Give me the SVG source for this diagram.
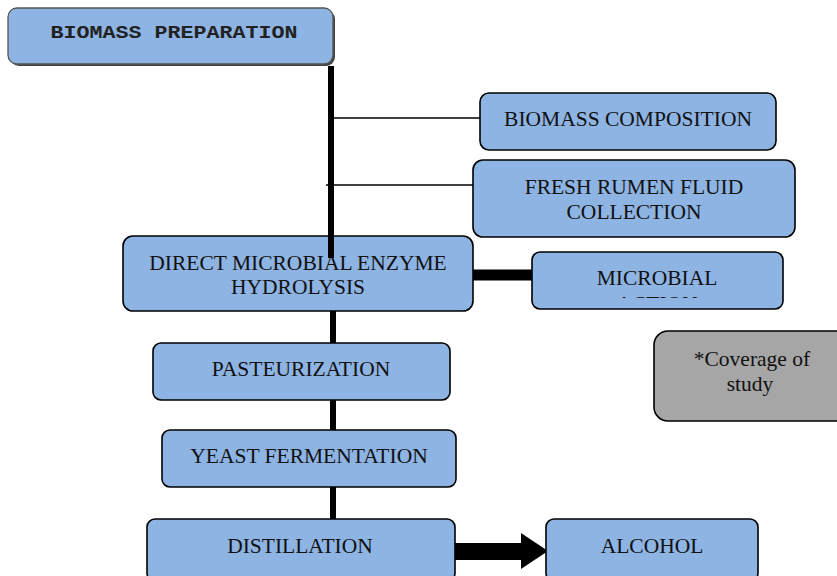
<svg xmlns="http://www.w3.org/2000/svg" width="837" height="576" viewBox="0 0 837 576">
<style>
.box{fill:#8eb4e3;stroke:#000;stroke-width:1.6}
.gray{fill:#a6a6a6;stroke:#000;stroke-width:1.6}
.t{font-family:"Liberation Serif","Times New Roman",serif;font-size:21.5px;fill:#111;text-anchor:middle}
.m{font-family:"Liberation Mono","Courier New",monospace;font-weight:bold;font-size:18px;fill:#222;text-anchor:middle}
.thick{stroke:#000;stroke-width:6;fill:none}
.thin{stroke:#000;stroke-width:1.3;fill:none}
</style>
<defs>
<clipPath id="clipMic"><rect x="532" y="252" width="252" height="46"/></clipPath>
</defs>
<rect width="837" height="576" fill="#fff"/>
<g id="connectors">
<line class="thick" x1="331" y1="66" x2="331" y2="258"/>
<line class="thin" x1="334" y1="118" x2="481" y2="118"/>
<line class="thin" x1="326" y1="185" x2="474" y2="185"/>
<line stroke="#000" stroke-width="11" x1="473" y1="275" x2="533" y2="275"/>
<line class="thick" x1="333" y1="311" x2="333" y2="343"/>
<line class="thick" x1="333" y1="400" x2="333" y2="430"/>
<line class="thick" x1="333" y1="487" x2="333" y2="520"/>
<polygon points="455,543 521,543 521,533 548,551 521,569 521,560 455,560" fill="#000"/>
</g>
<g id="biomass-preparation">
<rect x="10" y="10" width="325" height="56" rx="9" fill="#444"/>
<rect x="8" y="8" width="325" height="56" rx="9" fill="#8eb4e3" stroke="#555" stroke-width="1.3"/>
<text class="m" x="174" y="38" textLength="247" lengthAdjust="spacingAndGlyphs">BIOMASS PREPARATION</text>
</g>
<g id="biomass-composition">
<rect class="box" x="480" y="93" width="296" height="57" rx="9"/>
<text class="t" x="628" y="126">BIOMASS COMPOSITION</text>
</g>
<g id="fresh-rumen">
<rect class="box" x="473" y="160" width="322" height="77" rx="10"/>
<text class="t" x="634" y="194">FRESH RUMEN FLUID</text>
<text class="t" x="634" y="219">COLLECTION</text>
</g>
<g id="hydrolysis">
<rect class="box" x="123" y="236" width="350" height="75" rx="10"/>
<text class="t" x="298" y="270">DIRECT MICROBIAL ENZYME</text>
<text class="t" x="298" y="294">HYDROLYSIS</text>
</g>
<line class="thick" x1="331" y1="236" x2="331" y2="258"/>
<g id="microbial-action">
<rect class="box" x="532" y="252" width="251" height="57" rx="8"/>
<text class="t" x="657" y="285">MICROBIAL</text>
<text class="t" x="657" y="311" clip-path="url(#clipMic)">ACTION</text>
</g>
<g id="coverage">
<rect class="gray" x="654" y="331" width="200" height="90" rx="14"/>
<text class="t" x="752" y="366">*Coverage of</text>
<text class="t" x="750" y="391">study</text>
</g>
<g id="pasteurization">
<rect class="box" x="153" y="343" width="297" height="57" rx="8"/>
<text class="t" x="301" y="376">PASTEURIZATION</text>
</g>
<g id="yeast-fermentation">
<rect class="box" x="162" y="430" width="294" height="57" rx="8"/>
<text class="t" x="309" y="463">YEAST FERMENTATION</text>
</g>
<g id="distillation">
<rect class="box" x="147" y="519" width="308" height="62" rx="8"/>
<text class="t" x="300" y="553">DISTILLATION</text>
</g>
<g id="alcohol">
<rect class="box" x="546" y="519" width="212" height="62" rx="8"/>
<text class="t" x="652" y="553">ALCOHOL</text>
</g>
</svg>
